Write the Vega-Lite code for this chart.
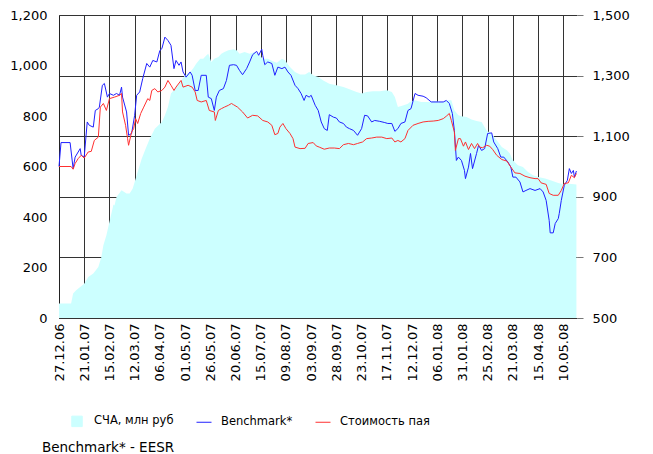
{
"$schema": "https://vega.github.io/schema/vega-lite/v6.json",
"width": 518, "height": 303,
"autosize": "none",
"padding": {"left": 59, "top": 15, "right": 76, "bottom": 136},
"title": {"text": "Benchmark* - EESR", "orient": "bottom", "anchor": "start", "frame": "group", "font": "DejaVu Sans", "fontSize": 13.5, "fontWeight": "normal", "color": "#000", "dx": -17, "offset": 12},
"datasets": {
"nav": [
{"date":"2006-12-27","v":57},{"date":"2007-01-08","v":57},{"date":"2007-01-10","v":97},{"date":"2007-01-13","v":110},{"date":"2007-01-17","v":123},{"date":"2007-01-21","v":136},{"date":"2007-01-25","v":162},{"date":"2007-01-30","v":176},{"date":"2007-02-04","v":202},{"date":"2007-02-07","v":242},{"date":"2007-02-09","v":288},{"date":"2007-02-12","v":328},{"date":"2007-02-15","v":380},{"date":"2007-02-19","v":450},{"date":"2007-02-20","v":446},{"date":"2007-02-22","v":479},{"date":"2007-02-27","v":506},{"date":"2007-03-04","v":493},{"date":"2007-03-07","v":493},{"date":"2007-03-10","v":512},{"date":"2007-03-15","v":578},{"date":"2007-03-19","v":631},{"date":"2007-03-23","v":671},{"date":"2007-03-27","v":710},{"date":"2007-04-01","v":750},{"date":"2007-04-08","v":776},{"date":"2007-04-11","v":803},{"date":"2007-04-14","v":836},{"date":"2007-04-17","v":889},{"date":"2007-04-21","v":908},{"date":"2007-04-26","v":935},{"date":"2007-05-01","v":961},{"date":"2007-05-06","v":974},{"date":"2007-05-09","v":988},{"date":"2007-05-12","v":1007},{"date":"2007-05-16","v":1027},{"date":"2007-05-19","v":1027},{"date":"2007-05-22","v":1040},{"date":"2007-05-24","v":1047},{"date":"2007-05-27","v":1014},{"date":"2007-05-30","v":1027},{"date":"2007-06-03","v":1034},{"date":"2007-06-06","v":1047},{"date":"2007-06-09","v":1053},{"date":"2007-06-13","v":1060},{"date":"2007-06-18","v":1064},{"date":"2007-06-21","v":1060},{"date":"2007-06-24","v":1047},{"date":"2007-06-29","v":1053},{"date":"2007-07-04","v":1047},{"date":"2007-07-09","v":1053},{"date":"2007-07-14","v":1040},{"date":"2007-07-17","v":1027},{"date":"2007-07-22","v":1027},{"date":"2007-07-27","v":1017},{"date":"2007-07-31","v":1011},{"date":"2007-08-05","v":1027},{"date":"2007-08-08","v":1021},{"date":"2007-08-13","v":994},{"date":"2007-08-18","v":974},{"date":"2007-08-23","v":964},{"date":"2007-08-28","v":964},{"date":"2007-09-01","v":974},{"date":"2007-09-05","v":961},{"date":"2007-09-10","v":954},{"date":"2007-09-15","v":941},{"date":"2007-09-21","v":928},{"date":"2007-09-28","v":922},{"date":"2007-10-05","v":915},{"date":"2007-10-11","v":906},{"date":"2007-10-18","v":895},{"date":"2007-10-23","v":889},{"date":"2007-10-28","v":895},{"date":"2007-11-03","v":898},{"date":"2007-11-10","v":898},{"date":"2007-11-17","v":902},{"date":"2007-11-22","v":895},{"date":"2007-11-25","v":875},{"date":"2007-11-28","v":836},{"date":"2007-12-03","v":842},{"date":"2007-12-08","v":849},{"date":"2007-12-10","v":855},{"date":"2007-12-15","v":862},{"date":"2007-12-21","v":855},{"date":"2007-12-28","v":855},{"date":"2008-01-03","v":859},{"date":"2008-01-10","v":855},{"date":"2008-01-17","v":862},{"date":"2008-01-20","v":862},{"date":"2008-01-23","v":823},{"date":"2008-01-27","v":803},{"date":"2008-01-30","v":799},{"date":"2008-02-04","v":796},{"date":"2008-02-09","v":786},{"date":"2008-02-14","v":780},{"date":"2008-02-19","v":776},{"date":"2008-02-24","v":743},{"date":"2008-02-29","v":730},{"date":"2008-03-05","v":704},{"date":"2008-03-10","v":677},{"date":"2008-03-15","v":664},{"date":"2008-03-18","v":651},{"date":"2008-03-21","v":625},{"date":"2008-03-26","v":605},{"date":"2008-03-31","v":598},{"date":"2008-04-05","v":578},{"date":"2008-04-10","v":565},{"date":"2008-04-15","v":558},{"date":"2008-04-22","v":552},{"date":"2008-04-28","v":545},{"date":"2008-05-05","v":535},{"date":"2008-05-11","v":529},{"date":"2008-05-16","v":532},{"date":"2008-05-23","v":529}
],
"lines": [
{"date":"2006-12-27","s":"Benchmark*","v":1000},{"date":"2006-12-29","s":"Benchmark*","v":1079},{"date":"2007-01-07","s":"Benchmark*","v":1079},{"date":"2007-01-10","s":"Benchmark*","v":993},{"date":"2007-01-12","s":"Benchmark*","v":1031},{"date":"2007-01-17","s":"Benchmark*","v":1059},{"date":"2007-01-18","s":"Benchmark*","v":1037},{"date":"2007-01-21","s":"Benchmark*","v":1031},{"date":"2007-01-24","s":"Benchmark*","v":1147},{"date":"2007-01-26","s":"Benchmark*","v":1136},{"date":"2007-01-30","s":"Benchmark*","v":1130},{"date":"2007-02-01","s":"Benchmark*","v":1185},{"date":"2007-02-04","s":"Benchmark*","v":1191},{"date":"2007-02-05","s":"Benchmark*","v":1196},{"date":"2007-02-08","s":"Benchmark*","v":1268},{"date":"2007-02-10","s":"Benchmark*","v":1274},{"date":"2007-02-13","s":"Benchmark*","v":1229},{"date":"2007-02-15","s":"Benchmark*","v":1241},{"date":"2007-02-19","s":"Benchmark*","v":1235},{"date":"2007-02-22","s":"Benchmark*","v":1241},{"date":"2007-02-25","s":"Benchmark*","v":1235},{"date":"2007-02-27","s":"Benchmark*","v":1262},{"date":"2007-02-28","s":"Benchmark*","v":1229},{"date":"2007-03-04","s":"Benchmark*","v":1180},{"date":"2007-03-06","s":"Benchmark*","v":1103},{"date":"2007-03-09","s":"Benchmark*","v":1109},{"date":"2007-03-12","s":"Benchmark*","v":1169},{"date":"2007-03-14","s":"Benchmark*","v":1235},{"date":"2007-03-17","s":"Benchmark*","v":1246},{"date":"2007-03-20","s":"Benchmark*","v":1290},{"date":"2007-03-24","s":"Benchmark*","v":1340},{"date":"2007-03-27","s":"Benchmark*","v":1328},{"date":"2007-03-30","s":"Benchmark*","v":1350},{"date":"2007-04-03","s":"Benchmark*","v":1345},{"date":"2007-04-06","s":"Benchmark*","v":1383},{"date":"2007-04-08","s":"Benchmark*","v":1389},{"date":"2007-04-11","s":"Benchmark*","v":1427},{"date":"2007-04-14","s":"Benchmark*","v":1416},{"date":"2007-04-17","s":"Benchmark*","v":1400},{"date":"2007-04-20","s":"Benchmark*","v":1323},{"date":"2007-04-22","s":"Benchmark*","v":1350},{"date":"2007-04-25","s":"Benchmark*","v":1334},{"date":"2007-04-27","s":"Benchmark*","v":1345},{"date":"2007-04-29","s":"Benchmark*","v":1312},{"date":"2007-05-02","s":"Benchmark*","v":1295},{"date":"2007-05-06","s":"Benchmark*","v":1312},{"date":"2007-05-08","s":"Benchmark*","v":1301},{"date":"2007-05-11","s":"Benchmark*","v":1251},{"date":"2007-05-14","s":"Benchmark*","v":1251},{"date":"2007-05-17","s":"Benchmark*","v":1301},{"date":"2007-05-22","s":"Benchmark*","v":1301},{"date":"2007-05-24","s":"Benchmark*","v":1229},{"date":"2007-05-27","s":"Benchmark*","v":1224},{"date":"2007-05-30","s":"Benchmark*","v":1185},{"date":"2007-06-01","s":"Benchmark*","v":1229},{"date":"2007-06-04","s":"Benchmark*","v":1251},{"date":"2007-06-08","s":"Benchmark*","v":1257},{"date":"2007-06-11","s":"Benchmark*","v":1284},{"date":"2007-06-14","s":"Benchmark*","v":1334},{"date":"2007-06-18","s":"Benchmark*","v":1336},{"date":"2007-06-21","s":"Benchmark*","v":1334},{"date":"2007-06-24","s":"Benchmark*","v":1317},{"date":"2007-06-27","s":"Benchmark*","v":1303},{"date":"2007-07-01","s":"Benchmark*","v":1323},{"date":"2007-07-04","s":"Benchmark*","v":1345},{"date":"2007-07-07","s":"Benchmark*","v":1369},{"date":"2007-07-11","s":"Benchmark*","v":1380},{"date":"2007-07-13","s":"Benchmark*","v":1367},{"date":"2007-07-16","s":"Benchmark*","v":1387},{"date":"2007-07-17","s":"Benchmark*","v":1367},{"date":"2007-07-19","s":"Benchmark*","v":1336},{"date":"2007-07-22","s":"Benchmark*","v":1345},{"date":"2007-07-26","s":"Benchmark*","v":1340},{"date":"2007-07-29","s":"Benchmark*","v":1301},{"date":"2007-08-01","s":"Benchmark*","v":1328},{"date":"2007-08-05","s":"Benchmark*","v":1323},{"date":"2007-08-08","s":"Benchmark*","v":1328},{"date":"2007-08-11","s":"Benchmark*","v":1312},{"date":"2007-08-14","s":"Benchmark*","v":1301},{"date":"2007-08-18","s":"Benchmark*","v":1268},{"date":"2007-08-21","s":"Benchmark*","v":1257},{"date":"2007-08-24","s":"Benchmark*","v":1241},{"date":"2007-08-27","s":"Benchmark*","v":1218},{"date":"2007-08-29","s":"Benchmark*","v":1235},{"date":"2007-09-01","s":"Benchmark*","v":1229},{"date":"2007-09-03","s":"Benchmark*","v":1235},{"date":"2007-09-07","s":"Benchmark*","v":1202},{"date":"2007-09-10","s":"Benchmark*","v":1185},{"date":"2007-09-13","s":"Benchmark*","v":1147},{"date":"2007-09-16","s":"Benchmark*","v":1125},{"date":"2007-09-19","s":"Benchmark*","v":1119},{"date":"2007-09-21","s":"Benchmark*","v":1171},{"date":"2007-09-25","s":"Benchmark*","v":1163},{"date":"2007-09-28","s":"Benchmark*","v":1160},{"date":"2007-10-01","s":"Benchmark*","v":1147},{"date":"2007-10-05","s":"Benchmark*","v":1142},{"date":"2007-10-08","s":"Benchmark*","v":1130},{"date":"2007-10-11","s":"Benchmark*","v":1125},{"date":"2007-10-15","s":"Benchmark*","v":1119},{"date":"2007-10-19","s":"Benchmark*","v":1103},{"date":"2007-10-23","s":"Benchmark*","v":1125},{"date":"2007-10-26","s":"Benchmark*","v":1169},{"date":"2007-10-29","s":"Benchmark*","v":1167},{"date":"2007-11-02","s":"Benchmark*","v":1147},{"date":"2007-11-05","s":"Benchmark*","v":1152},{"date":"2007-11-10","s":"Benchmark*","v":1149},{"date":"2007-11-15","s":"Benchmark*","v":1145},{"date":"2007-11-18","s":"Benchmark*","v":1142},{"date":"2007-11-22","s":"Benchmark*","v":1142},{"date":"2007-11-25","s":"Benchmark*","v":1116},{"date":"2007-11-28","s":"Benchmark*","v":1125},{"date":"2007-12-01","s":"Benchmark*","v":1142},{"date":"2007-12-05","s":"Benchmark*","v":1147},{"date":"2007-12-08","s":"Benchmark*","v":1185},{"date":"2007-12-11","s":"Benchmark*","v":1191},{"date":"2007-12-15","s":"Benchmark*","v":1241},{"date":"2007-12-18","s":"Benchmark*","v":1235},{"date":"2007-12-23","s":"Benchmark*","v":1232},{"date":"2007-12-26","s":"Benchmark*","v":1227},{"date":"2007-12-31","s":"Benchmark*","v":1213},{"date":"2008-01-07","s":"Benchmark*","v":1213},{"date":"2008-01-12","s":"Benchmark*","v":1213},{"date":"2008-01-15","s":"Benchmark*","v":1218},{"date":"2008-01-18","s":"Benchmark*","v":1208},{"date":"2008-01-21","s":"Benchmark*","v":1175},{"date":"2008-01-23","s":"Benchmark*","v":1119},{"date":"2008-01-25","s":"Benchmark*","v":1020},{"date":"2008-01-27","s":"Benchmark*","v":1031},{"date":"2008-01-30","s":"Benchmark*","v":1020},{"date":"2008-02-02","s":"Benchmark*","v":987},{"date":"2008-02-03","s":"Benchmark*","v":960},{"date":"2008-02-06","s":"Benchmark*","v":998},{"date":"2008-02-08","s":"Benchmark*","v":1043},{"date":"2008-02-10","s":"Benchmark*","v":993},{"date":"2008-02-14","s":"Benchmark*","v":1043},{"date":"2008-02-16","s":"Benchmark*","v":1070},{"date":"2008-02-19","s":"Benchmark*","v":1053},{"date":"2008-02-22","s":"Benchmark*","v":1059},{"date":"2008-02-25","s":"Benchmark*","v":1109},{"date":"2008-02-29","s":"Benchmark*","v":1111},{"date":"2008-03-02","s":"Benchmark*","v":1081},{"date":"2008-03-06","s":"Benchmark*","v":1059},{"date":"2008-03-09","s":"Benchmark*","v":1031},{"date":"2008-03-12","s":"Benchmark*","v":1031},{"date":"2008-03-16","s":"Benchmark*","v":1015},{"date":"2008-03-19","s":"Benchmark*","v":998},{"date":"2008-03-21","s":"Benchmark*","v":965},{"date":"2008-03-24","s":"Benchmark*","v":965},{"date":"2008-03-28","s":"Benchmark*","v":949},{"date":"2008-03-31","s":"Benchmark*","v":916},{"date":"2008-04-03","s":"Benchmark*","v":921},{"date":"2008-04-07","s":"Benchmark*","v":927},{"date":"2008-04-12","s":"Benchmark*","v":921},{"date":"2008-04-17","s":"Benchmark*","v":927},{"date":"2008-04-20","s":"Benchmark*","v":916},{"date":"2008-04-23","s":"Benchmark*","v":888},{"date":"2008-04-26","s":"Benchmark*","v":822},{"date":"2008-04-27","s":"Benchmark*","v":781},{"date":"2008-04-30","s":"Benchmark*","v":781},{"date":"2008-05-02","s":"Benchmark*","v":812},{"date":"2008-05-05","s":"Benchmark*","v":828},{"date":"2008-05-06","s":"Benchmark*","v":845},{"date":"2008-05-08","s":"Benchmark*","v":888},{"date":"2008-05-11","s":"Benchmark*","v":938},{"date":"2008-05-14","s":"Benchmark*","v":954},{"date":"2008-05-16","s":"Benchmark*","v":993},{"date":"2008-05-18","s":"Benchmark*","v":977},{"date":"2008-05-20","s":"Benchmark*","v":987},{"date":"2008-05-21","s":"Benchmark*","v":965},{"date":"2008-05-23","s":"Benchmark*","v":985},
{"date":"2006-12-27","s":"Стоимость пая","v":1000},{"date":"2007-01-08","s":"Стоимость пая","v":1000},{"date":"2007-01-10","s":"Стоимость пая","v":991},{"date":"2007-01-12","s":"Стоимость пая","v":1010},{"date":"2007-01-15","s":"Стоимость пая","v":1026},{"date":"2007-01-18","s":"Стоимость пая","v":1037},{"date":"2007-01-21","s":"Стоимость пая","v":1028},{"date":"2007-01-25","s":"Стоимость пая","v":1048},{"date":"2007-01-28","s":"Стоимость пая","v":1050},{"date":"2007-01-31","s":"Стоимость пая","v":1086},{"date":"2007-02-04","s":"Стоимость пая","v":1097},{"date":"2007-02-06","s":"Стоимость пая","v":1196},{"date":"2007-02-09","s":"Стоимость пая","v":1208},{"date":"2007-02-12","s":"Стоимость пая","v":1185},{"date":"2007-02-15","s":"Стоимость пая","v":1224},{"date":"2007-02-20","s":"Стоимость пая","v":1229},{"date":"2007-02-25","s":"Стоимость пая","v":1235},{"date":"2007-02-27","s":"Стоимость пая","v":1241},{"date":"2007-02-28","s":"Стоимость пая","v":1180},{"date":"2007-03-03","s":"Стоимость пая","v":1136},{"date":"2007-03-05","s":"Стоимость пая","v":1092},{"date":"2007-03-06","s":"Стоимость пая","v":1070},{"date":"2007-03-09","s":"Стоимость пая","v":1114},{"date":"2007-03-11","s":"Стоимость пая","v":1125},{"date":"2007-03-13","s":"Стоимость пая","v":1158},{"date":"2007-03-15","s":"Стоимость пая","v":1142},{"date":"2007-03-18","s":"Стоимость пая","v":1175},{"date":"2007-03-21","s":"Стоимость пая","v":1196},{"date":"2007-03-25","s":"Стоимость пая","v":1224},{"date":"2007-03-27","s":"Стоимость пая","v":1218},{"date":"2007-03-29","s":"Стоимость пая","v":1251},{"date":"2007-04-01","s":"Стоимость пая","v":1257},{"date":"2007-04-04","s":"Стоимость пая","v":1246},{"date":"2007-04-08","s":"Стоимость пая","v":1251},{"date":"2007-04-11","s":"Стоимость пая","v":1262},{"date":"2007-04-14","s":"Стоимость пая","v":1284},{"date":"2007-04-17","s":"Стоимость пая","v":1268},{"date":"2007-04-20","s":"Стоимость пая","v":1251},{"date":"2007-04-22","s":"Стоимость пая","v":1262},{"date":"2007-04-27","s":"Стоимость пая","v":1284},{"date":"2007-04-29","s":"Стоимость пая","v":1262},{"date":"2007-05-04","s":"Стоимость пая","v":1268},{"date":"2007-05-08","s":"Стоимость пая","v":1262},{"date":"2007-05-11","s":"Стоимость пая","v":1246},{"date":"2007-05-13","s":"Стоимость пая","v":1218},{"date":"2007-05-17","s":"Стоимость пая","v":1213},{"date":"2007-05-22","s":"Стоимость пая","v":1218},{"date":"2007-05-25","s":"Стоимость пая","v":1185},{"date":"2007-05-30","s":"Стоимость пая","v":1180},{"date":"2007-05-31","s":"Стоимость пая","v":1152},{"date":"2007-06-03","s":"Стоимость пая","v":1185},{"date":"2007-06-06","s":"Стоимость пая","v":1191},{"date":"2007-06-09","s":"Стоимость пая","v":1196},{"date":"2007-06-13","s":"Стоимость пая","v":1202},{"date":"2007-06-16","s":"Стоимость пая","v":1208},{"date":"2007-06-18","s":"Стоимость пая","v":1204},{"date":"2007-06-22","s":"Стоимость пая","v":1196},{"date":"2007-06-27","s":"Стоимость пая","v":1180},{"date":"2007-07-02","s":"Стоимость пая","v":1160},{"date":"2007-07-07","s":"Стоимость пая","v":1169},{"date":"2007-07-12","s":"Стоимость пая","v":1167},{"date":"2007-07-17","s":"Стоимость пая","v":1152},{"date":"2007-07-22","s":"Стоимость пая","v":1147},{"date":"2007-07-26","s":"Стоимость пая","v":1136},{"date":"2007-07-29","s":"Стоимость пая","v":1105},{"date":"2007-08-01","s":"Стоимость пая","v":1109},{"date":"2007-08-03","s":"Стоимость пая","v":1130},{"date":"2007-08-06","s":"Стоимость пая","v":1142},{"date":"2007-08-09","s":"Стоимость пая","v":1125},{"date":"2007-08-13","s":"Стоимость пая","v":1109},{"date":"2007-08-16","s":"Стоимость пая","v":1092},{"date":"2007-08-18","s":"Стоимость пая","v":1064},{"date":"2007-08-23","s":"Стоимость пая","v":1059},{"date":"2007-08-28","s":"Стоимость пая","v":1060},{"date":"2007-08-31","s":"Стоимость пая","v":1076},{"date":"2007-09-05","s":"Стоимость пая","v":1079},{"date":"2007-09-08","s":"Стоимость пая","v":1068},{"date":"2007-09-11","s":"Стоимость пая","v":1064},{"date":"2007-09-16","s":"Стоимость пая","v":1057},{"date":"2007-09-21","s":"Стоимость пая","v":1061},{"date":"2007-09-26","s":"Стоимость пая","v":1061},{"date":"2007-10-01","s":"Стоимость пая","v":1059},{"date":"2007-10-05","s":"Стоимость пая","v":1072},{"date":"2007-10-10","s":"Стоимость пая","v":1076},{"date":"2007-10-15","s":"Стоимость пая","v":1072},{"date":"2007-10-19","s":"Стоимость пая","v":1076},{"date":"2007-10-24","s":"Стоимость пая","v":1081},{"date":"2007-10-28","s":"Стоимость пая","v":1092},{"date":"2007-11-02","s":"Стоимость пая","v":1094},{"date":"2007-11-07","s":"Стоимость пая","v":1097},{"date":"2007-11-12","s":"Стоимость пая","v":1097},{"date":"2007-11-17","s":"Стоимость пая","v":1092},{"date":"2007-11-22","s":"Стоимость пая","v":1094},{"date":"2007-11-25","s":"Стоимость пая","v":1081},{"date":"2007-11-28","s":"Стоимость пая","v":1086},{"date":"2007-12-01","s":"Стоимость пая","v":1081},{"date":"2007-12-05","s":"Стоимость пая","v":1092},{"date":"2007-12-08","s":"Стоимость пая","v":1119},{"date":"2007-12-13","s":"Стоимость пая","v":1136},{"date":"2007-12-18","s":"Стоимость пая","v":1142},{"date":"2007-12-23","s":"Стоимость пая","v":1147},{"date":"2007-12-28","s":"Стоимость пая","v":1149},{"date":"2008-01-02","s":"Стоимость пая","v":1150},{"date":"2008-01-07","s":"Стоимость пая","v":1152},{"date":"2008-01-12","s":"Стоимость пая","v":1158},{"date":"2008-01-15","s":"Стоимость пая","v":1166},{"date":"2008-01-18","s":"Стоимость пая","v":1175},{"date":"2008-01-20","s":"Стоимость пая","v":1152},{"date":"2008-01-23","s":"Стоимость пая","v":1114},{"date":"2008-01-24","s":"Стоимость пая","v":1053},{"date":"2008-01-27","s":"Стоимость пая","v":1092},{"date":"2008-01-29","s":"Стоимость пая","v":1092},{"date":"2008-02-01","s":"Стоимость пая","v":1067},{"date":"2008-02-03","s":"Стоимость пая","v":1081},{"date":"2008-02-06","s":"Стоимость пая","v":1056},{"date":"2008-02-09","s":"Стоимость пая","v":1076},{"date":"2008-02-12","s":"Стоимость пая","v":1059},{"date":"2008-02-15","s":"Стоимость пая","v":1076},{"date":"2008-02-17","s":"Стоимость пая","v":1064},{"date":"2008-02-20","s":"Стоимость пая","v":1062},{"date":"2008-02-24","s":"Стоимость пая","v":1070},{"date":"2008-02-27","s":"Стоимость пая","v":1067},{"date":"2008-03-01","s":"Стоимость пая","v":1056},{"date":"2008-03-05","s":"Стоимость пая","v":1037},{"date":"2008-03-10","s":"Стоимость пая","v":1023},{"date":"2008-03-15","s":"Стоимость пая","v":1018},{"date":"2008-03-19","s":"Стоимость пая","v":998},{"date":"2008-03-23","s":"Стоимость пая","v":979},{"date":"2008-03-28","s":"Стоимость пая","v":977},{"date":"2008-04-02","s":"Стоимость пая","v":968},{"date":"2008-04-07","s":"Стоимость пая","v":963},{"date":"2008-04-12","s":"Стоимость пая","v":960},{"date":"2008-04-15","s":"Стоимость пая","v":960},{"date":"2008-04-18","s":"Стоимость пая","v":946},{"date":"2008-04-23","s":"Стоимость пая","v":941},{"date":"2008-04-26","s":"Стоимость пая","v":911},{"date":"2008-04-30","s":"Стоимость пая","v":905},{"date":"2008-05-05","s":"Стоимость пая","v":905},{"date":"2008-05-08","s":"Стоимость пая","v":921},{"date":"2008-05-11","s":"Стоимость пая","v":944},{"date":"2008-05-15","s":"Стоимость пая","v":946},{"date":"2008-05-18","s":"Стоимость пая","v":971},{"date":"2008-05-21","s":"Стоимость пая","v":963},{"date":"2008-05-23","s":"Стоимость пая","v":977}
]
},
"layer": [
{
"data": {"name": "nav"},
"mark": {"type": "area", "interpolate": "linear", "opacity": 1},
"encoding": {
"x": {"field": "date", "type": "temporal",
 "scale": {"type": "utc", "domain": [{"year":2006,"month":12,"date":27,"utc":true},{"year":2008,"month":5,"date":23,"hours":14,"utc":true}], "nice": false},
 "axis": {"title": null, "format": "%d.%m.%y", "labelAngle": -90, "grid": true, "ticks": false, "tickSize": 0, "tickCount": 40, "domain": false, "labelPadding": 5, "labelOverlap": false, "labelFlush": false,
 "values": [{"year":2006,"month":12,"date":27,"utc":true},{"year":2007,"month":1,"date":21,"utc":true},{"year":2007,"month":2,"date":15,"utc":true},{"year":2007,"month":3,"date":12,"utc":true},{"year":2007,"month":4,"date":6,"utc":true},{"year":2007,"month":5,"date":1,"utc":true},{"year":2007,"month":5,"date":26,"utc":true},{"year":2007,"month":6,"date":20,"utc":true},{"year":2007,"month":7,"date":15,"utc":true},{"year":2007,"month":8,"date":9,"utc":true},{"year":2007,"month":9,"date":3,"utc":true},{"year":2007,"month":9,"date":28,"utc":true},{"year":2007,"month":10,"date":23,"utc":true},{"year":2007,"month":11,"date":17,"utc":true},{"year":2007,"month":12,"date":12,"utc":true},{"year":2008,"month":1,"date":6,"utc":true},{"year":2008,"month":1,"date":31,"utc":true},{"year":2008,"month":2,"date":25,"utc":true},{"year":2008,"month":3,"date":21,"utc":true},{"year":2008,"month":4,"date":15,"utc":true},{"year":2008,"month":5,"date":10,"utc":true}]}},
"y": {"field": "v", "type": "quantitative", "scale": {"domain": [0, 1200], "nice": false},
 "axis": {"orient": "left", "title": null, "values": [0,200,400,600,800,1000,1200], "format": ",.0f", "tickCount": 20, "grid": false, "ticks": false, "tickSize": 0, "domain": true, "domainColor": "#222", "labelPadding": 12}},
"color": {"datum": "СЧА, млн руб", "type": "nominal",
 "scale": {"domain": ["СЧА, млн руб", "Benchmark*", "Стоимость пая"], "range": ["#ccffff", "#2020ff", "#ff3030"]},
 "legend": {"orient": "none", "legendX": 10, "legendY": 398, "direction": "horizontal", "title": null, "padding": 0, "symbolSize": 200, "labelOffset": 9, "columnPadding": 20, "labelFont": "DejaVu Sans", "labelFontSize": 11.5, "labelColor": "#000",
  "encode": {"symbols": {"update": {
   "shape": {"signal": "datum.value === 'СЧА, млн руб' ? 'square' : 'stroke'"},
   "size": {"signal": "datum.value === 'СЧА, млн руб' ? 110 : 225"},
   "fill": {"signal": "datum.value === 'СЧА, млн руб' ? '#ccffff' : 'transparent'"},
   "stroke": {"signal": "datum.value === 'СЧА, млн руб' ? 'transparent' : (datum.value === 'Benchmark*' ? '#2020ff' : '#ff3030')"},
   "strokeWidth": {"value": 1}}}}}}
}
},
{
"data": {"name": "lines"},
"mark": {"type": "line", "strokeWidth": 1, "interpolate": "linear"},
"encoding": {
"x": {"field": "date", "type": "temporal"},
"y": {"field": "v", "type": "quantitative", "scale": {"domain": [500, 1500], "nice": false, "zero": false},
 "axis": {"orient": "right", "title": null, "values": [500,700,900,1100,1300,1500], "format": ",.0f", "tickCount": 20, "grid": true, "ticks": true, "tickSize": 6, "tickColor": "#777", "domain": false, "labelPadding": 9}},
"color": {"field": "s", "type": "nominal",
 "legend": {"orient": "none", "legendX": 10, "legendY": 398, "direction": "horizontal", "title": null, "padding": 0, "symbolSize": 200, "labelOffset": 9, "columnPadding": 20, "labelFont": "DejaVu Sans", "labelFontSize": 11.5, "labelColor": "#000",
  "encode": {"symbols": {"update": {
   "shape": {"signal": "datum.value === 'СЧА, млн руб' ? 'square' : 'stroke'"},
   "size": {"signal": "datum.value === 'СЧА, млн руб' ? 110 : 225"},
   "fill": {"signal": "datum.value === 'СЧА, млн руб' ? '#ccffff' : 'transparent'"},
   "stroke": {"signal": "datum.value === 'СЧА, млн руб' ? 'transparent' : (datum.value === 'Benchmark*' ? '#2020ff' : '#ff3030')"},
   "strokeWidth": {"value": 1}}}}}}
}
}
],
"resolve": {"scale": {"y": "independent"}},
"config": {
"view": {"stroke": null},
"font": "DejaVu Sans",
"axis": {"labelFont": "DejaVu Sans", "labelFontSize": 13, "labelColor": "#000", "gridColor": "#333", "gridOpacity": 1, "gridWidth": 1, "domainColor": "#222"},
"axisX": {"labelOverlap": false, "tickCount": 40}
}
}
